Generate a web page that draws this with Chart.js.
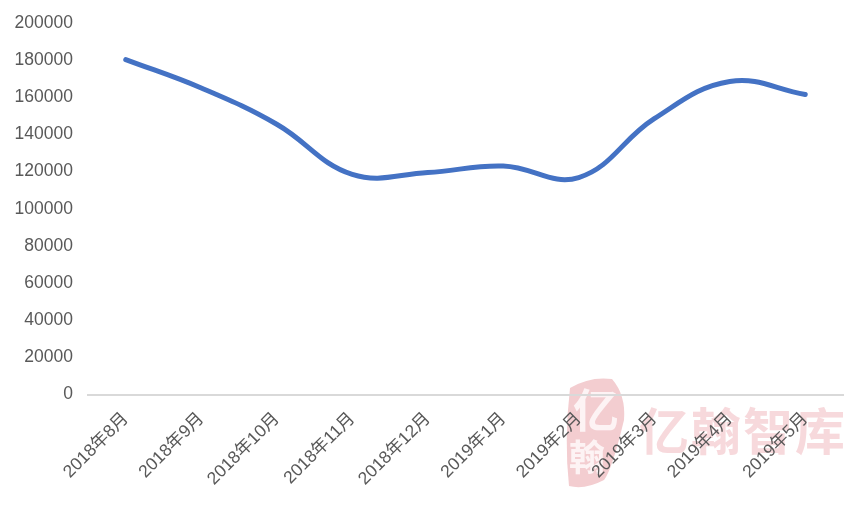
<!DOCTYPE html>
<html>
<head>
<meta charset="utf-8">
<script src="https://cdn.jsdelivr.net/npm/chart.js@4/dist/chart.umd.js"></script>
<style>
html, body { margin: 0; padding: 0; background: #fff; }
#wrap { width: 866px; height: 505px; }
</style>
</head>
<body>
<div id="wrap"><canvas id="chart" width="866" height="505"></canvas></div>
<script>
const months = ['2018年8月', '2018年9月', '2018年10月', '2018年11月', '2018年12月', '2019年1月', '2019年2月', '2019年3月', '2019年4月', '2019年5月'];
const values = [180300, 165000, 145500, 118500, 119500, 123000, 116800, 148500, 168500, 161500];
const fontFamily = '"Liberation Sans", "Noto Sans CJK SC", sans-serif';

// pink stamp and company name behind the chart
const watermark = {
    id: 'watermark',
    beforeDraw(chart) {
        let ctx = chart.ctx;
        ctx.save();
        ctx.fillStyle = '#f3cdd0';
        ctx.beginPath();
        ctx.moveTo(570, 388);
        ctx.quadraticCurveTo(590, 376, 612, 379);
        ctx.quadraticCurveTo(626, 395, 624, 420);
        ctx.quadraticCurveTo(612, 470, 604, 480);
        ctx.quadraticCurveTo(585, 490, 569, 486);
        ctx.quadraticCurveTo(564, 440, 570, 388);
        ctx.closePath();
        ctx.fill();

        ctx.fillStyle = '#fdf3f4';
        ctx.textAlign = 'center';
        ctx.textBaseline = 'middle';
        ctx.font = 'bold 46px "Noto Sans CJK SC"';
        ctx.fillText('亿', 596, 410);
        ctx.font = 'bold 36px "Noto Sans CJK SC"';
        ctx.fillText('翰', 587, 457);

        ctx.fillStyle = '#f7d9dc';
        ctx.textAlign = 'left';
        ctx.font = 'bold 50px "Noto Sans CJK SC"';
        ctx.letterSpacing = '2px';
        ctx.fillText('亿翰智库', 639, 431);
        ctx.restore();
    }
};

new Chart(document.getElementById('chart'), {
    type: 'line',
    data: {
        labels: months,
        datasets: [{
            data: values,
            borderColor: '#4472c4',
            borderWidth: 5,
            borderCapStyle: 'round',
            pointRadius: 0,
            tension: 0.4,
            fill: false,
        }],
    },
    options: {
        responsive: false,
        animation: false,
        layout: {
            padding: {top: 23, right: 23, bottom: 0, left: 0},
        },
        plugins: {
            legend: {display: false},
            tooltip: {enabled: false},
        },
        scales: {
            x: {
                offset: true,
                afterFit(axis) { axis.height = 110.5; },
                grid: {drawOnChartArea: false, drawTicks: false, color: '#d9d9d9'},
                border: {color: '#d9d9d9', width: 2},
                ticks: {
                    minRotation: 45,
                    maxRotation: 45,
                    padding: 14,
                    color: '#595959',
                    font: {size: 17.5, family: fontFamily},
                },
            },
            y: {
                min: 0,
                max: 200000,
                afterFit(axis) { axis.width = 88; },
                grid: {display: false},
                border: {display: false},
                ticks: {
                    stepSize: 20000,
                    padding: 7,
                    color: '#595959',
                    font: {size: 17.5, family: fontFamily},
                    callback: (value) => String(value),
                },
            },
        },
    },
    plugins: [watermark],
});
</script>
</body>
</html>
